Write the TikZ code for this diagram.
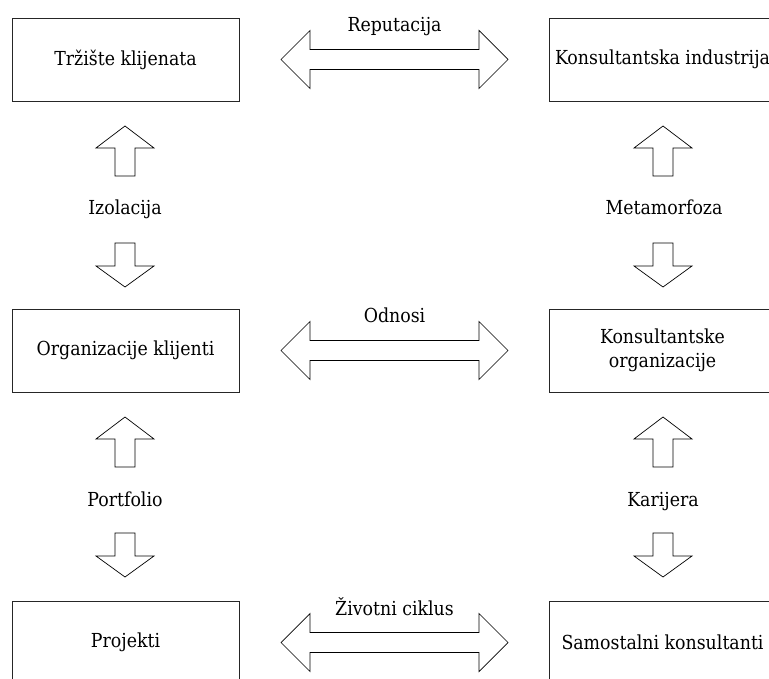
\documentclass[tikz,border=0pt]{standalone}
\usepackage{fontspec}
\setmainfont{DejaVu Serif Condensed}
\begin{document}
\begin{tikzpicture}[x=1pt,y=-1pt, line join=miter,
  box/.style={draw=black!85, line width=0.9pt, minimum width=227pt, minimum height=83pt, inner sep=0pt, align=center, font=\fontsize{19.3}{23.5}\selectfont},
  lbl/.style={font=\fontsize{19.3}{23.5}\selectfont, inner sep=0pt},
  blockarrow/.style={draw=black, line width=0.7pt, fill=white}]
\useasboundingbox (0,0) rectangle (769,679);
\clip (0,0) rectangle (769,679);
% boxes
\node[box] (tl) at (125.5,59.5) {Tržište klijenata};
\node[box] (tr) at (662.5,59.5) {Konsultantska industrija};
\node[box] (ml) at (125.5,350.5) {Organizacije klijenti};
\node[box] (mr) at (662.5,350.5) {Konsultantske\\organizacije};
\node[box] (bl) at (125.5,642.5) {Projekti};
\node[box] (br) at (662.5,642.5) {Samostalni konsultanti};
% horizontal double arrows
\foreach \c in {59.5,350.5,642.5}{
  \draw[blockarrow] (281,\c) -- (310,\c-29) -- (310,\c-10) -- (479,\c-10) -- (479,\c-29) -- (508,\c)
    -- (479,\c+29) -- (479,\c+10) -- (310,\c+10) -- (310,\c+29) -- cycle;
}
% vertical arrows
\foreach \cx in {125,663}{
  \foreach \t/\s in {126/243,417/533}{
    \draw[blockarrow] (\cx,\t) -- (\cx+29,\t+22) -- (\cx+10,\t+22) -- (\cx+10,\t+50)
      -- (\cx-10,\t+50) -- (\cx-10,\t+22) -- (\cx-29,\t+22) -- cycle;
    \draw[blockarrow] (\cx-10,\s) -- (\cx+10,\s) -- (\cx+10,\s+23) -- (\cx+29,\s+23)
      -- (\cx,\s+44) -- (\cx-29,\s+23) -- (\cx-10,\s+23) -- cycle;
  }
}
% labels
\node[lbl, anchor=base] (rep) at (394.5,32) {Reputacija};
\node[lbl, anchor=base] (odn) at (394.5,323) {Odnosi};
\node[lbl, anchor=base] (ziv) at (394.5,615) {Životni ciklus};
\node[lbl, anchor=base] (izo) at (125,215) {Izolacija};
\node[lbl, anchor=base] (met) at (664,215) {Metamorfoza};
\node[lbl, anchor=base] (por) at (125,506) {Portfolio};
\node[lbl, anchor=base] (kar) at (663,506) {Karijera};
\end{tikzpicture}
\end{document}
